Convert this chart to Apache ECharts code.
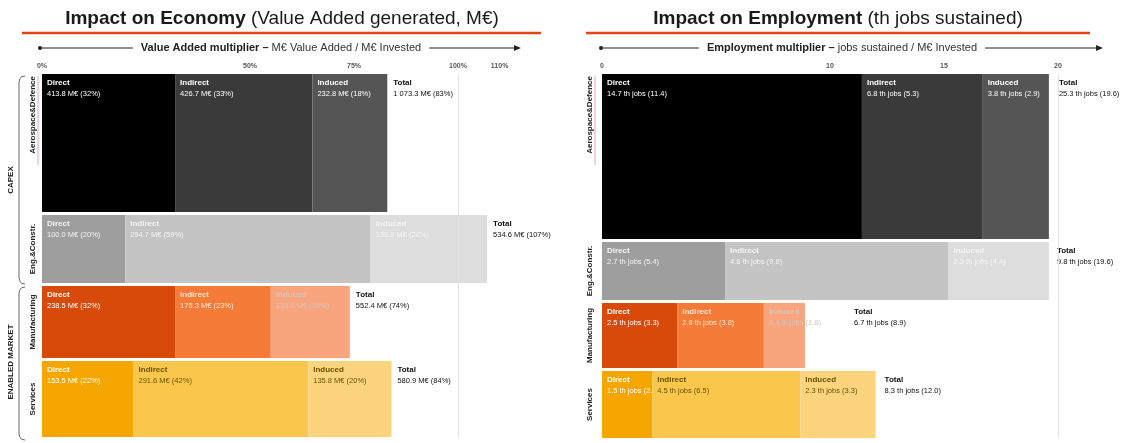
<!DOCTYPE html>
<html><head><meta charset="utf-8">
<script src="https://cdn.jsdelivr.net/npm/echarts@6/dist/echarts.min.js"></script>
<style>html,body{margin:0;padding:0;background:#fff}#c{width:1132px;height:443px}</style>
</head><body><div id="c"></div>
<script>
// ---------------- DATA ----------------
const sectors = ['Aerospace&Defence', 'Eng.&Constr.', 'Manufacturing', 'Services'];
const groups = ['CAPEX', 'ENABLED MARKET'];
const components = ['Direct', 'Indirect', 'Induced'];
// Value added (M€)
const vaDirect   = [413.8, 100.0, 238.5, 153.5];
const vaIndirect = [426.7, 294.7, 175.3, 291.6];
const vaInduced  = [232.8, 139.9, 138.6, 135.8];
const vaTotal    = [1073.3, 534.6, 552.4, 580.9];
// Value added multiplier (% of invested)
const vaDirectPct   = [32, 20, 32, 22];
const vaIndirectPct = [33, 59, 23, 42];
const vaInducedPct  = [18, 28, 19, 20];
const vaTotalPct    = [83, 107, 74, 84];
// Employment (th jobs)
const jobDirect   = [14.7, 2.7, 2.5, 1.5];
const jobIndirect = [6.8, 4.8, 2.8, 4.5];
const jobInduced  = [3.8, 2.3, 1.4, 2.3];
const jobTotal    = [25.3, 9.8, 6.7, 8.3];
// Employment multiplier (jobs / M€ invested)
const jobDirectMult   = [11.4, 5.4, 3.3, 2.2];
const jobIndirectMult = [5.3, 9.8, 3.8, 6.5];
const jobInducedMult  = [2.9, 4.4, 1.8, 3.3];
const jobTotalMult    = [19.6, 19.6, 8.9, 12.0];
// Tick labels
const vaTicks = [0, 50, 75, 100, 110];
const jobTicks = [0, 10, 15, 20];

// ---------------- LAYOUT / STYLE ----------------
const FONT = '"Liberation Sans", Arial, sans-serif';
const COLORS = [
  ['#000000', '#3a3a3a', '#555555'],
  ['#9e9e9e', '#c4c4c4', '#dddddd'],
  ['#d74a0a', '#f47c38', '#f8a47c'],
  ['#f5a600', '#fbc64c', '#fcd47e']
];
const TXT = [
  ['#ffffff', '#ffffff', '#ffffff'],
  ['#f4f4f4', '#f4f4f4', '#f4f4f4'],
  ['#ffffff', '#fde3d2', '#d9c2b6'],
  ['#ffffff', '#6a5200', '#6a5200']
];
function spans(heights, gap) { let y = 0; return heights.map(h => { const s = [y, y + h]; y += h + gap; return s; }); }
const L_SPANS = spans([138, 68, 72, 76], 3);
const R_SPANS = spans([165, 58, 65, 67], 3);
// extra horizontal offset (px) of the "Total" label per row
const L_TOT_SHIFT = [0, 0, 0, 0];
const R_TOT_SHIFT = [4, 2, 43, 3];

function fmtNum(v) {
  const s = v.toFixed(1); const [i, d] = s.split('.');
  return i.replace(/\B(?=(\d{3})+(?!\d))/g, ' ') + '.' + d;
}
const vaVals = [vaDirect, vaIndirect, vaInduced];
const vaPcts = [vaDirectPct, vaIndirectPct, vaInducedPct];
const jobVals = [jobDirect, jobIndirect, jobInduced];
const jobMults = [jobDirectMult, jobIndirectMult, jobInducedMult];

function buildSegs(parts) {
  const out = [];
  sectors.forEach((s, i) => { let x = 0; parts.forEach((arr, j) => { out.push([x, x + arr[i], i, j]); x += arr[i]; }); });
  return out;
}
const vaSegs = buildSegs(vaPcts);
const jobSegs = buildSegs(jobMults);
const vaTot = vaTotalPct.map((v, i) => [v, i]);
const jobTot = jobTotalMult.map((v, i) => [v, i]);

const vaText = (r, c) => fmtNum(vaVals[c][r]) + ' M€ (' + vaPcts[c][r] + '%)';
const jobText = (r, c) => jobVals[c][r].toFixed(1) + ' th jobs (' + jobMults[c][r].toFixed(1) + ')';
const vaTotText = r => fmtNum(vaTotal[r]) + ' M€ (' + vaTotalPct[r] + '%)';
const jobTotText = r => jobTotal[r].toFixed(1) + ' th jobs (' + jobTotalMult[r].toFixed(1) + ')';

function richFor(col) {
  return {
    h: { fontWeight: 'bold', fontSize: 8, fill: col, fontFamily: FONT, lineHeight: 11 },
    v: { fontSize: 7.5, fill: col, fontFamily: FONT, lineHeight: 11 }
  };
}
function segRender(sp, textFn) {
  return function (params, api) {
    const x0 = api.value(0), x1 = api.value(1), r = api.value(2), c = api.value(3);
    const a = api.coord([x0, sp[r][0]]), b = api.coord([x1, sp[r][1]]);
    return {
      type: 'group', children: [
        { type: 'rect', shape: { x: a[0], y: a[1], width: b[0] - a[0], height: b[1] - a[1] }, style: { fill: COLORS[r][c] } },
        { type: 'text', x: a[0] + 5, y: a[1] + 3, style: { text: '{h|' + components[c] + '}\n{v|' + textFn(r, c) + '}', rich: richFor(TXT[r][c]) } }
      ]
    };
  };
}
function totRender(sp, textFn, shift) {
  return function (params, api) {
    const x = api.value(0), r = api.value(1);
    const a = api.coord([x, sp[r][0]]);
    return { type: 'text', x: a[0] + 6 + shift[r], y: a[1] + 3, style: { text: '{h|Total}\n{v|' + textFn(r) + '}', rich: richFor('#111') } };
  };
}

const axisLabelBase = { fontSize: 7, fontWeight: 'bold', color: '#555', fontFamily: FONT, margin: 4 };

const option = {
  animation: false,
  grid: [
    { left: 42, top: 74, width: 115 * 4.16, height: 364 },
    { left: 602, top: 74, width: 22 * 22.8, height: 364 }
  ],
  xAxis: [
    { gridIndex: 0, type: 'value', min: 0, max: 115, position: 'top', axisLine: { show: false }, axisTick: { show: false }, splitLine: { show: false },
      axisLabel: Object.assign({}, axisLabelBase, { customValues: vaTicks, formatter: v => v + '%' }) },
    { gridIndex: 1, type: 'value', min: 0, max: 22, position: 'top', axisLine: { show: false }, axisTick: { show: false }, splitLine: { show: false },
      axisLabel: Object.assign({}, axisLabelBase, { customValues: jobTicks, formatter: v => String(v) }) }
  ],
  yAxis: [
    { gridIndex: 0, type: 'value', min: 0, max: 364, inverse: true, show: false },
    { gridIndex: 1, type: 'value', min: 0, max: 364, inverse: true, show: false }
  ],
  series: [
    { type: 'line', xAxisIndex: 0, yAxisIndex: 0, data: [], z: 1, silent: true,
      markLine: { silent: true, symbol: 'none', label: { show: false }, lineStyle: { color: '#e4e4e4', type: 'solid', width: 1 }, data: [{ xAxis: 100 }] } },
    { type: 'line', xAxisIndex: 1, yAxisIndex: 1, data: [], z: 1, silent: true,
      markLine: { silent: true, symbol: 'none', label: { show: false }, lineStyle: { color: '#e4e4e4', type: 'solid', width: 1 }, data: [{ xAxis: 20 }] } },
    { type: 'custom', xAxisIndex: 0, yAxisIndex: 0, z: 3, data: vaSegs, renderItem: segRender(L_SPANS, vaText), encode: { x: [0, 1] } },
    { type: 'custom', xAxisIndex: 0, yAxisIndex: 0, z: 3, data: vaTot, renderItem: totRender(L_SPANS, vaTotText, L_TOT_SHIFT), encode: { x: 0 } },
    { type: 'custom', xAxisIndex: 1, yAxisIndex: 1, z: 3, data: jobSegs, renderItem: segRender(R_SPANS, jobText), encode: { x: [0, 1] } },
    { type: 'custom', xAxisIndex: 1, yAxisIndex: 1, z: 3, data: jobTot, renderItem: totRender(R_SPANS, jobTotText, R_TOT_SHIFT), encode: { x: 0 } }
  ]
};

// ---------- decorations (graphic) ----------
function titleEl(cx, bold, rest) {
  return { type: 'text', x: cx, y: 19, style: {
    text: '{b|' + bold + '}{n| ' + rest + '}', align: 'center', verticalAlign: 'middle',
    rich: { b: { fontSize: 19, fontWeight: 'bold', fill: '#1a1a1a', fontFamily: FONT }, n: { fontSize: 19, fill: '#1a1a1a', fontFamily: FONT } } } };
}
function arrowEls(x0, x1, cx, bold, rest) {
  return [
    { type: 'line', shape: { x1: x0, y1: 48, x2: x1 - 4, y2: 48 }, style: { stroke: '#222', lineWidth: 1 } },
    { type: 'circle', shape: { cx: x0, cy: 48, r: 2 }, style: { fill: '#222' } },
    { type: 'polygon', shape: { points: [[x1 - 7, 45], [x1, 48], [x1 - 7, 51]] }, style: { fill: '#222' } },
    { type: 'text', x: cx, y: 48, z: 10, style: {
      text: '{b|' + bold + '}{n| ' + rest + '}', align: 'center', verticalAlign: 'middle', backgroundColor: '#fff', padding: [2, 8],
      rich: { b: { fontSize: 11, fontWeight: 'bold', fill: '#222', fontFamily: FONT }, n: { fontSize: 11, fill: '#333', fontFamily: FONT } } } }
  ];
}
function rowLabel(x, sp, top, txt, anchorTop) {
  const y0 = top + sp[0], y1 = top + sp[1];
  return { type: 'text', x: x, y: anchorTop ? y0 + 2 : (y0 + y1) / 2, rotation: Math.PI / 2, style: {
    text: txt, align: anchorTop ? 'right' : 'center', verticalAlign: 'middle', fontSize: 8, fontWeight: 'bold', fill: '#222', fontFamily: FONT } };
}
function brace(x, y0, y1) {
  return { type: 'polyline', shape: { points: [[x + 6, y0], [x + 3, y0 + 0.6], [x + 1, y0 + 2.5], [x, y0 + 6], [x, y1 - 6], [x + 1, y1 - 2.5], [x + 3, y1 - 0.6], [x + 6, y1]] },
    style: { stroke: '#666', lineWidth: 1, fill: null } };
}
const TOP = 74;
const graphics = [
  titleEl(282, 'Impact on Economy', '(Value Added generated, M€)'),
  titleEl(838, 'Impact on Employment', '(th jobs sustained)'),
  { type: 'line', shape: { x1: 22, y1: 33, x2: 541, y2: 33 }, style: { stroke: '#e2450f', lineWidth: 2.5 } },
  { type: 'line', shape: { x1: 586, y1: 33, x2: 1090, y2: 33 }, style: { stroke: '#e2450f', lineWidth: 2.5 } },
  ...arrowEls(40, 521, 281, 'Value Added multiplier –', 'M€ Value Added / M€ Invested'),
  ...arrowEls(601, 1103, 842, 'Employment multiplier –', 'jobs sustained / M€ Invested'),
  brace(19, 76, 284),
  brace(19, 287, 440),
  { type: 'text', x: 11, y: 180, rotation: Math.PI / 2, style: { text: groups[0], align: 'center', verticalAlign: 'middle', fontSize: 8, fontWeight: 'bold', fill: '#222', fontFamily: FONT } },
  { type: 'text', x: 11, y: 362, rotation: Math.PI / 2, style: { text: groups[1], align: 'center', verticalAlign: 'middle', fontSize: 8, fontWeight: 'bold', fill: '#222', fontFamily: FONT } },
  { type: 'line', shape: { x1: 38, y1: 76, x2: 38, y2: 165 }, style: { stroke: '#f3a3bd', lineWidth: 1 } },
  { type: 'line', shape: { x1: 595, y1: 76, x2: 595, y2: 165 }, style: { stroke: '#f3a3bd', lineWidth: 1 } }
];
sectors.forEach((s, i) => {
  graphics.push(rowLabel(33, L_SPANS[i], TOP, s, i === 0));
  graphics.push(rowLabel(590, R_SPANS[i], TOP, s, i === 0));
});
option.graphic = { elements: graphics };

const chart = echarts.init(document.getElementById('c'));
chart.setOption(option);
</script>
</body></html>
